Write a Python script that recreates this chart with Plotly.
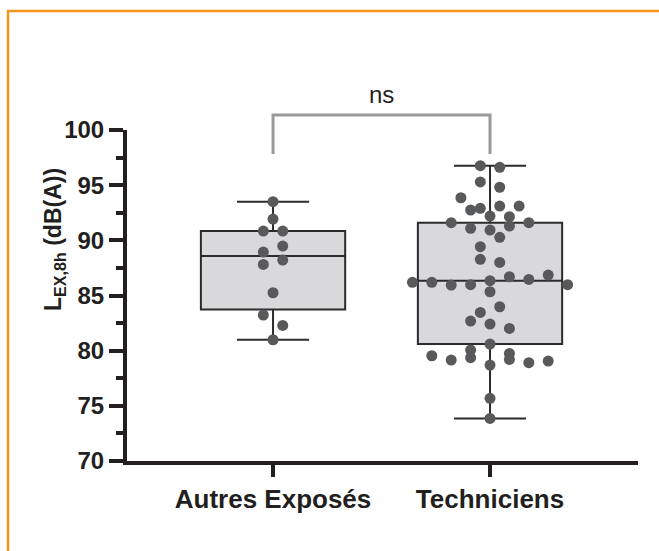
import numpy as np
import plotly.graph_objects as go

# ---------------- data ----------------
categories = ["Autres Exposés", "Techniciens"]
autres_exposes = [93.5, 91.93, 90.84, 90.84, 88.94, 89.48, 87.82, 88.21,
                  85.25, 83.23, 82.29, 80.99]
techniciens = [96.77, 96.62, 95.29, 94.81, 93.86, 92.90, 93.11, 93.11,
               92.75, 92.20, 92.14, 91.6, 91.09, 90.93, 91.30, 91.6,
               89.42, 90.27, 88.28, 88.0,
               86.19, 86.19, 85.95, 85.98, 86.34, 86.70, 86.46, 86.85, 85.98,
               85.34, 83.47, 83.98, 82.68, 82.41, 82.02,
               80.05, 80.6, 79.75,
               79.54, 79.15, 79.36, 78.69, 79.21, 78.91, 79.06,
               75.68, 73.86]
y_tick_values = [70, 75, 80, 85, 90, 95, 100]
y_title = "L<sub>EX,8h</sub> (dB(A))"
comparison_label = "ns"
# bracket heights (data units) for the comparison
bracket_top = 101.36
bracket_foot = 97.82
label_level = 103.2

# ---------------- geometry / style ----------------
W, H = 659, 551
M = dict(l=127, r=21, t=130, b=90)
X_RANGE = [-0.673, 1.682]
Y_RANGE = [70, 100]
plot_w = W - M["l"] - M["r"]
plot_h = H - M["t"] - M["b"]
px_x = plot_w / (X_RANGE[1] - X_RANGE[0])
px_y = plot_h / (Y_RANGE[1] - Y_RANGE[0])

MARKER = 11
HALF_SLOT = 9.7  # px
INK = "#231f20"
DOT = "#58595b"
BOX_FILL = "#d9d9db"
ORANGE = "#f7941d"
FONT = "Liberation Sans"


def swarm_offsets(values):
    """Row-binned symmetric scatter (column scatter) offsets in x data units."""
    vals = np.asarray(values, dtype=float)
    order = sorted(range(len(vals)), key=lambda i: -vals[i])
    row_h = MARKER / px_y
    rows = []
    for i in order:
        if rows and vals[i] >= rows[-1][0] - row_h:
            rows[-1][1].append(i)
        else:
            rows.append([vals[i], [i]])
    off = np.zeros(len(vals))
    for _, idx in rows:
        idx = sorted(idx)
        n = len(idx)
        for k, i in enumerate(idx):
            off[i] = (2 * k - (n - 1)) * HALF_SLOT / px_x
    return off


def py2paper(v):
    return (v - Y_RANGE[0]) / (Y_RANGE[1] - Y_RANGE[0])


fig = go.Figure()
groups = [autres_exposes, techniciens]
for gi, vals in enumerate(groups):
    q1, med, q3 = np.percentile(vals, [25, 50, 75], method="weibull")
    fig.add_trace(go.Box(
        x=[gi], q1=[q1], median=[med], q3=[q3],
        lowerfence=[min(vals)], upperfence=[max(vals)],
        width=0.665, whiskerwidth=0.5,
        fillcolor=BOX_FILL, line=dict(color="#2b2b2b", width=2),
        boxpoints=False, hoverinfo="skip", showlegend=False,
    ))
for gi, vals in enumerate(groups):
    off = swarm_offsets(vals)
    fig.add_trace(go.Scatter(
        x=gi + off, y=vals, mode="markers",
        marker=dict(size=MARKER, color=DOT, line=dict(width=0)),
        cliponaxis=False, showlegend=False, hoverinfo="skip",
    ))

# comparison bracket
fig.add_shape(type="path", xref="x", yref="paper",
              path=f"M 0 {py2paper(bracket_foot)} L 0 {py2paper(bracket_top)} "
                   f"L 1 {py2paper(bracket_top)} L 1 {py2paper(bracket_foot)}",
              line=dict(color="#9a9a9a", width=3))
fig.add_annotation(x=0.5, xref="x", y=py2paper(label_level), yref="paper",
                   text=comparison_label, showarrow=False,
                   font=dict(family=FONT, size=24, color=INK),
                   xanchor="center", yanchor="middle")

# y-axis title
fig.add_annotation(x=(54 - M["l"]) / plot_w, xref="paper",
                   y=(H - M["b"] - 240) / plot_h, yref="paper",
                   text=y_title, textangle=-90, showarrow=False,
                   font=dict(family=FONT, size=23, color=INK, weight="bold"),
                   xanchor="center", yanchor="middle")

# orange frame
xl = (8 - M["l"]) / plot_w
yt = (H - M["b"] - 11) / plot_h
fig.add_shape(type="path", xref="paper", yref="paper",
              path=f"M {xl} -0.4 L {xl} {yt} L 1.2 {yt}",
              line=dict(color=ORANGE, width=2.5))

fig.update_layout(
    width=W, height=H, margin=M, autosize=False,
    paper_bgcolor="white", plot_bgcolor="white", showlegend=False,
    font=dict(family=FONT, color=INK),
    xaxis=dict(range=X_RANGE, showgrid=False, zeroline=False,
               showline=True, linewidth=4, linecolor=INK,
               ticks="outside", ticklen=12, tickwidth=4, tickcolor=INK,
               tickvals=[0, 1], ticktext=categories,
               tickfont=dict(family=FONT, size=26, color=INK, weight="bold")),
    yaxis=dict(range=Y_RANGE, showgrid=False, zeroline=False,
               showline=True, linewidth=4, linecolor=INK,
               ticks="outside", ticklen=14, tickwidth=3.5, tickcolor=INK,
               tickvals=y_tick_values,
               tickfont=dict(family=FONT, size=24, color=INK, weight="bold"),
               minor=dict(ticks="outside", ticklen=7, tickwidth=3.5,
                          tickcolor=INK, tick0=70, dtick=2.5, showgrid=False)),
)

fig.write_html("out.html", config={"displayModeBar": False},
               post_script="document.body.style.margin='0px';")
